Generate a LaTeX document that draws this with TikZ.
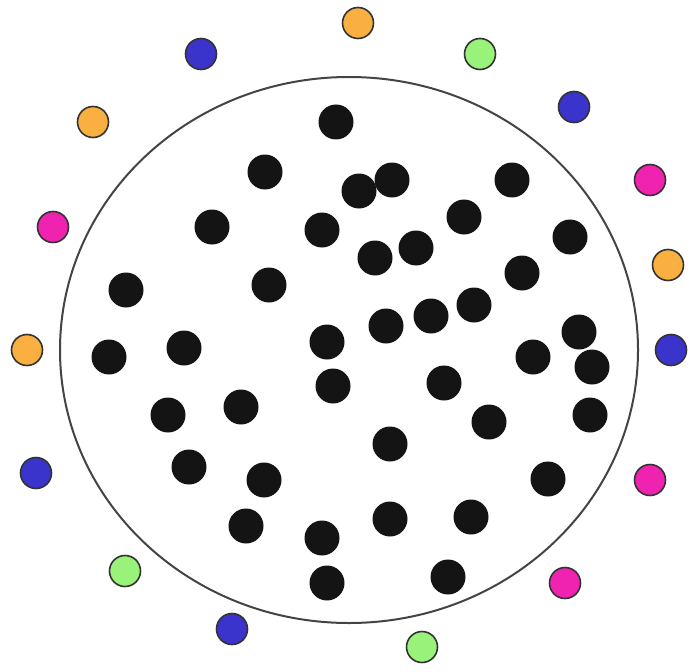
\documentclass[tikz,border=0pt]{standalone}
\usetikzlibrary{shapes.geometric}
\definecolor{dotorange}{HTML}{F9B040}
\definecolor{dotblue}{HTML}{3A33CC}
\definecolor{dotgreen}{HTML}{99F27A}
\definecolor{dotmagenta}{HTML}{F022B0}
\definecolor{dotblack}{HTML}{141414}
\definecolor{rimgray}{HTML}{444444}
\begin{document}
\begin{tikzpicture}[x=1pt,y=-1pt,
  blackdot/.style={circle,fill=dotblack,draw=none,inner sep=0pt,minimum size=35pt},
  colordot/.style={circle,draw=black!80,line width=1.6pt,inner sep=0pt,minimum size=31pt,fill=#1},
  rim/.style={draw=rimgray,line width=2pt}]
\useasboundingbox (0,0) rectangle (692,671);
\node[ellipse,rim,minimum width=578pt,minimum height=546pt,inner sep=0pt] (rimshape) at (349,350) {};
\foreach \x/\y [count=\i] in {336/122,265/172,359/191,392/180,512/180,464/217,212/227,322/230,570/237,375/258,416/248,522/273,126/290,269/285,386/326,431/316,474/305,579/332,109/357,184/348,327/342,533/357,592/367,333/386,444/383,168/415,241/407,489/422,590/415,390/444,189/467,264/480,548/479,246/526,322/538,390/519,471/517,327/583,448/577}
  \node[blackdot] (b\i) at (\x,\y) {};
\foreach \x/\y/\c [count=\i] in {358/23/dotorange,201/54/dotblue,480/54/dotgreen,574/107/dotblue,93/122/dotorange,650/180/dotmagenta,53/227/dotmagenta,668/265/dotorange,27/350/dotorange,671/350/dotblue,36/473/dotblue,650/480/dotmagenta,125/571/dotgreen,565/583/dotmagenta,232/629/dotblue,422/647/dotgreen}
  \node[colordot=\c] (c\i) at (\x,\y) {};
\end{tikzpicture}
\end{document}
